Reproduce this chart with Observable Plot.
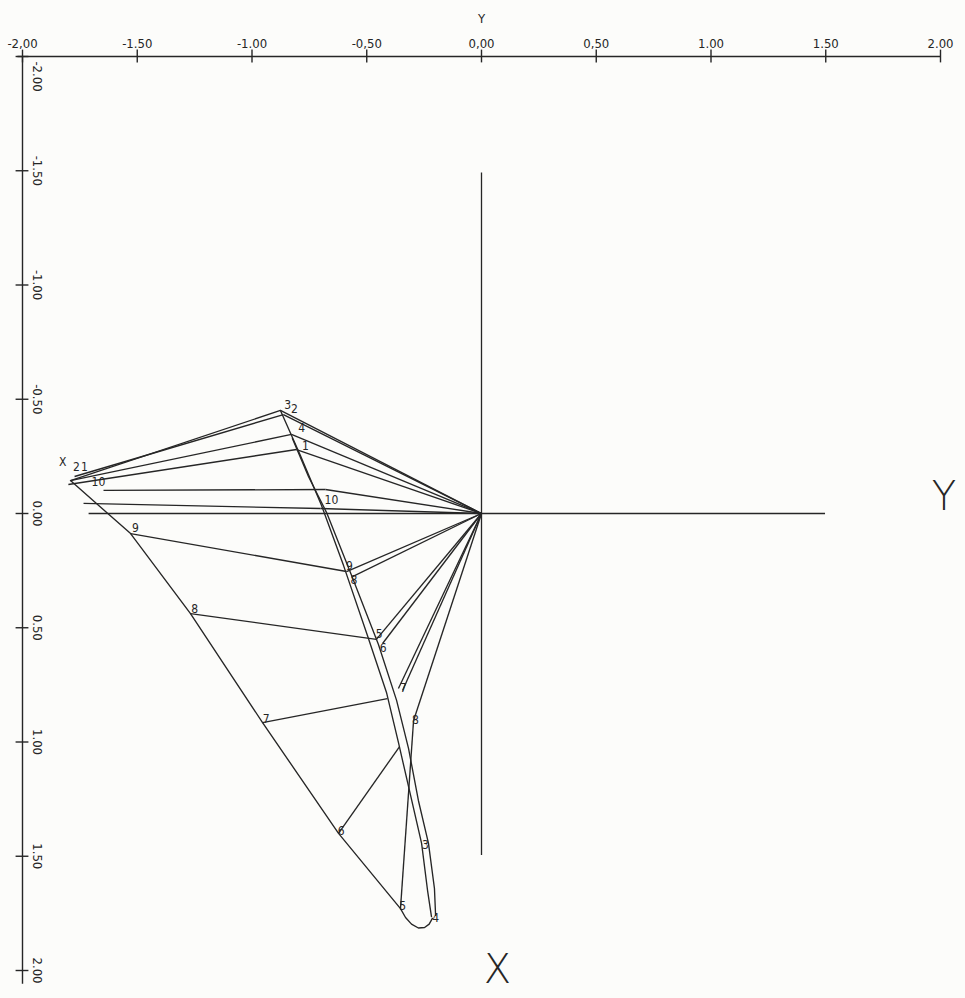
<!DOCTYPE html>
<html><head><meta charset="utf-8">
<script src="https://cdn.jsdelivr.net/npm/d3@7"></script>
<script src="https://cdn.jsdelivr.net/npm/@observablehq/plot@0.6"></script>
<style>
html,body{margin:0;padding:0;background:#fcfcfa;}
#chart{width:965px;height:998px;}
svg{background:#fcfcfa;}
</style></head><body><div id="chart"></div>
<script>
// ---- axis ticks ----
const axisTicks = [-2, -1.5, -1, -0.5, 0, 0.5, 1, 1.5, 2];
const topTickLabels = ["-2,00", "-1.50", "-1.00", "-0,50", "0,00", "0,50", "1.00", "1.50", "2.00"];
const leftTickLabels = ["-2.00", "-1.50", "-1.00", "-0.50", "0.00", "0.50", "1.00", "1.50", "2.00"];

// ---- points as [Y (horizontal), X (vertical)] ----
const origin = [0, 0];
const innerPoints = {
  A: [-0.876, -0.451], A2: [-0.863, -0.433], B: [-0.828, -0.346], C: [-0.806, -0.280],
  D: [-0.680, -0.105], E: [-0.702, -0.022], G: [-0.588, 0.254], G2: [-0.562, 0.276],
  H: [-0.458, 0.551], H2: [-0.431, 0.569], Ia: [-0.362, 0.766], Ia2: [-0.344, 0.775],
  Ib: [-0.410, 0.810], J: [-0.296, 0.906], K6: [-0.357, 1.020]
};
const outerPoints = {
  FX: [-1.791, -0.144], FX2: [-1.773, -0.162], FX3: [-1.800, -0.127], F10: [-1.647, -0.101],
  Fa: [-1.734, -0.044], Fh: [-1.712, 0.0], F9: [-1.529, 0.088], F8: [-1.268, 0.438],
  F7: [-0.954, 0.915], F6: [-0.623, 1.400], F5: [-0.353, 1.729], F4: [-0.214, 1.772]
};
// outer path (big loop)
const outerPath = [
  [-1.791, -0.144], [-1.529, 0.088], [-1.268, 0.438], [-0.954, 0.915], [-0.623, 1.400],
  [-0.353, 1.729], [-0.331, 1.768], [-0.305, 1.797], [-0.275, 1.814], [-0.248, 1.812],
  [-0.228, 1.797], [-0.214, 1.772]
];
// inner narrow loop (two nearly parallel strands)
const innerPathLeft = [
  [-0.876, -0.451], [-0.789, -0.254], [-0.697, -0.035], [-0.601, 0.228], [-0.497, 0.534],
  [-0.414, 0.783], [-0.362, 1.002], [-0.309, 1.234], [-0.261, 1.444], [-0.235, 1.650], [-0.218, 1.764]
];
const innerPathRight = [
  [-0.824, -0.328], [-0.754, -0.162], [-0.675, -0.004], [-0.566, 0.271], [-0.449, 0.573],
  [-0.370, 0.818], [-0.318, 1.028], [-0.275, 1.256], [-0.231, 1.444], [-0.205, 1.641], [-0.200, 1.759]
];
// spokes from origin to inner points
const spokeTargets = ["A", "A2", "B", "C", "D", "E", "G", "G2", "H", "H2", "Ia", "Ia2", "J"];
// links outer -> inner
const links = [
  ["FX", "A"], ["FX2", "A2"], ["FX", "B"], ["FX3", "C"], ["F10", "D"], ["Fa", "E"],
  ["F9", "G"], ["F8", "H"], ["F7", "Ib"], ["F6", "K6"], ["F5", "J"]
];
// point labels: [Y, X, text]
const pointLabels = [
  [-0.845, -0.473, "3"], [-0.815, -0.455, "2"], [-0.784, -0.372, "4"], [-0.767, -0.293, "1"],
  [-0.654, -0.057, "10"], [-0.575, 0.230, "9"], [-0.556, 0.290, "8"], [-0.446, 0.528, "5"],
  [-0.428, 0.590, "6"], [-0.340, 0.766, "7"], [-0.288, 0.906, "8"], [-0.244, 1.453, "3"],
  [-0.200, 1.772, "4"], [-0.343, 1.720, "5"], [-0.611, 1.392, "6"], [-0.938, 0.901, "7"],
  [-1.250, 0.420, "8"], [-1.508, 0.066, "9"], [-1.825, -0.223, "X"], [-1.765, -0.203, "2"],
  [-1.730, -0.203, "1"], [-1.669, -0.136, "10"]
];
const axisNames = [[0, -2, "Y"]];
const bigNames = [[2.015, -0.07, "Y"], [0.07, 2.0, "X"]];

// ---- build tables ----
const P = {...innerPoints, ...outerPoints};
const segs = [
  ...spokeTargets.map(k => ({x1: origin[0], y1: origin[1], x2: P[k][0], y2: P[k][1]})),
  ...links.map(([a, b]) => ({x1: P[a][0], y1: P[a][1], x2: P[b][0], y2: P[b][1]})),
  {x1: P.Fh[0], y1: P.Fh[1], x2: origin[0], y2: origin[1]}
];
const paths = [
  ...outerPath.map(d => ({h: d[0], v: d[1], k: "outer"})),
  ...innerPathLeft.map(d => ({h: d[0], v: d[1], k: "left"})),
  ...innerPathRight.map(d => ({h: d[0], v: d[1], k: "right"}))
];
const font = "'Liberation Sans Narrow','DejaVu Sans Condensed','DejaVu Sans',sans-serif";
const ink = "#262626";
const tickIdx = axisTicks.map((t, i) => i);

const chart = Plot.plot({
  width: 965, height: 998,
  marginLeft: 22, marginRight: 25, marginTop: 56, marginBottom: 28,
  x: {domain: [-2, 2], axis: null},
  y: {domain: [-2, 2], reverse: true, axis: null},
  style: {background: "#fcfcfa", color: ink},
  marks: [
    // frame axes
    Plot.ruleY([-2], {x1: -2.02, x2: 2, stroke: ink, strokeWidth: 1.4}),
    Plot.ruleX([-2], {y1: -2, y2: 2.06, stroke: ink, strokeWidth: 1.4}),
    Plot.ruleX(axisTicks, {x: d => d, y1: -2.028, y2: -1.972, stroke: ink, strokeWidth: 1.4}),
    Plot.ruleY(axisTicks, {y: d => d, x1: -2.028, x2: -1.972, stroke: ink, strokeWidth: 1.4}),
    Plot.text(tickIdx, {x: i => axisTicks[i], y: -2, dy: -13, text: i => topTickLabels[i],
      fontFamily: font, fontSize: 13, fill: ink}),
    Plot.text(tickIdx.slice(1), {x: -2, dx: 15, y: i => axisTicks[i], text: i => leftTickLabels[i],
      rotate: 90, fontFamily: font, fontSize: 13, fill: ink}),
    Plot.text([0], {x: -2, dx: 15, y: -2, dy: 20, text: () => leftTickLabels[0],
      rotate: 90, fontFamily: font, fontSize: 13, fill: ink}),
    Plot.text(axisNames, {x: d => d[0], y: d => d[1], dy: -38, text: d => d[2],
      fontFamily: font, fontSize: 13, fill: ink}),
    // central cross
    Plot.ruleX([0], {y1: -1.49, y2: 1.497, stroke: ink, strokeWidth: 1.3}),
    Plot.ruleY([0], {x1: 0, x2: 1.499, stroke: ink, strokeWidth: 1.3}),
    Plot.text(bigNames, {x: d => d[0], y: d => d[1], text: d => d[2],
      fontFamily: "'DejaVu Sans',sans-serif", fontWeight: 200, fontSize: 40, fill: ink}),
    // data
    Plot.link(segs, {x1: "x1", y1: "y1", x2: "x2", y2: "y2", stroke: ink, strokeWidth: 1.35}),
    Plot.line(paths, {x: "h", y: "v", z: "k", stroke: ink, strokeWidth: 1.35}),
    Plot.text(pointLabels, {x: d => d[0], y: d => d[1], text: d => d[2],
      fontFamily: font, fontSize: 12, fill: ink})
  ]
});
document.getElementById("chart").appendChild(chart);
</script>
</body></html>
